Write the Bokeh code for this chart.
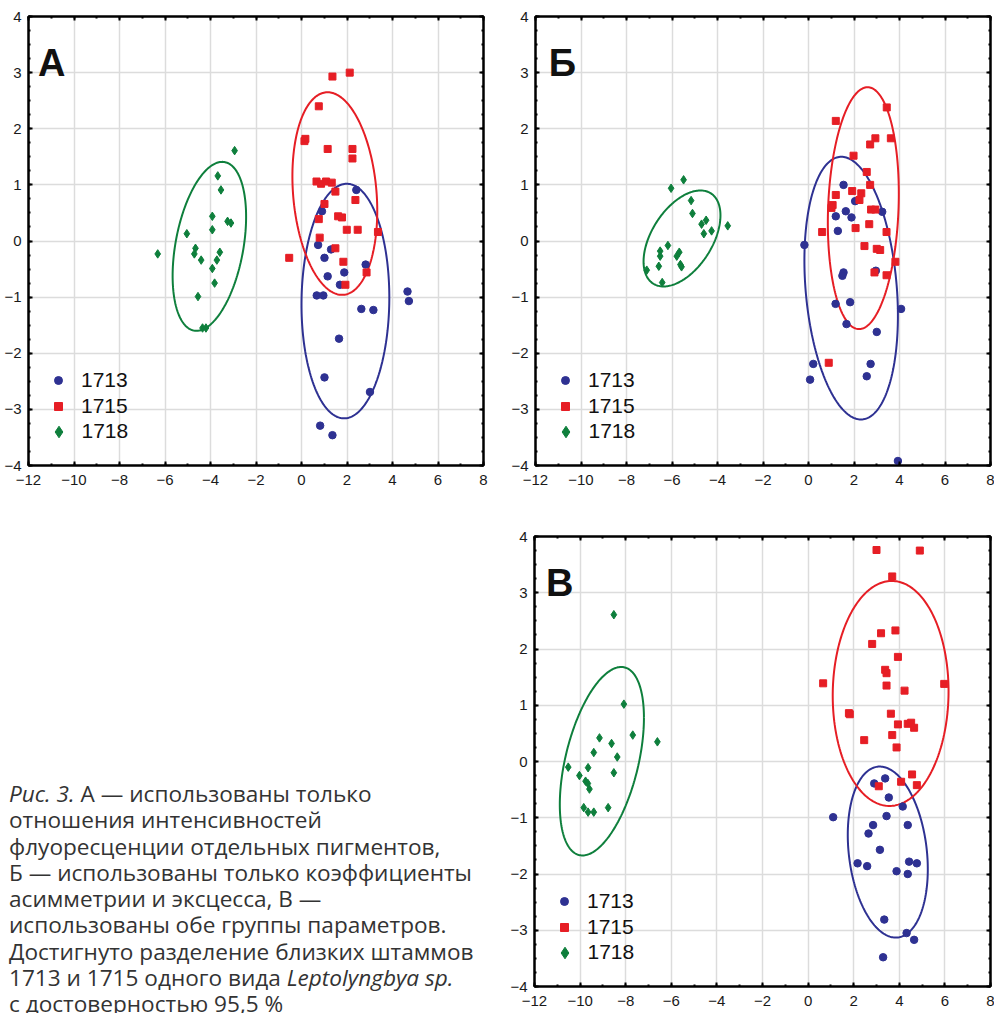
import numpy as np
from bokeh.plotting import figure
from bokeh.models import (Range1d, SingleIntervalTicker, LinearAxis, Legend,
                          LegendItem, Label, Div, CustomJSTickFormatter)
from bokeh.layouts import column, row
from bokeh.embed import file_html
from bokeh.resources import INLINE

# ---------------- data ----------------
strains = ["1713", "1715", "1718"]

# Panel А
A_1713_x = [2.41, 0.90, 0.73, 1.30, 1.01, 1.15, 1.88, 1.69, 2.82, 0.67, 0.96, 2.63, 3.16, 1.65, 1.01, 3.01, 0.82, 1.36, 4.66, 4.72]
A_1713_y = [0.91, 0.53, -0.07, -0.15, -0.30, -0.63, -0.56, -0.78, -0.42, -0.97, -0.97, -1.21, -1.23, -1.74, -2.43, -2.69, -3.29, -3.46, -0.90, -1.07]
A_1715_x = [1.36, 2.12, 0.76, 0.13, 0.17, 1.15, 2.24, 2.24, 0.66, 0.86, 1.08, 1.33, 1.49, 2.37, 1.01, 0.76, 1.61, 1.78, 1.99, 2.47, 3.36, 0.80, 1.49, -0.54, 1.84, 2.86, 1.93]
A_1715_y = [2.93, 3.00, 2.40, 1.78, 1.82, 1.64, 1.64, 1.47, 1.06, 1.02, 1.06, 1.04, 0.88, 0.73, 0.66, 0.39, 0.44, 0.42, 0.20, 0.20, 0.16, 0.06, -0.13, -0.30, -0.37, -0.56, -0.78]
A_1718_x = [-2.94, -3.68, -3.54, -3.92, -3.25, -3.10, -3.92, -5.04, -4.66, -4.71, -6.32, -4.41, -3.59, -3.72, -3.92, -3.82, -4.55, -4.35, -4.20]
A_1718_y = [1.61, 1.16, 0.91, 0.44, 0.35, 0.32, 0.20, 0.13, -0.13, -0.23, -0.23, -0.34, -0.20, -0.34, -0.49, -0.75, -0.99, -1.55, -1.55]
# ellipses: centre x, centre y, half-width x, half-height y, correlation
A_ell_1713 = [1.93, -1.07, 1.93, 2.09, 0.03]
A_ell_1715 = [1.465, 0.845, 1.865, 1.805, -0.17]
A_ell_1718 = [-4.05, -0.095, 1.615, 1.505, 0.35]

# Panel Б
B_1713_x = [-0.18, 1.54, 2.05, 1.20, 1.64, 1.89, 1.29, 3.24, 2.96, 1.54, 1.49, 1.19, 1.83, 1.67, 3.00, 4.07, 0.21, 0.07, 2.73, 2.56, 3.93]
B_1713_y = [-0.07, 1.00, 0.71, 0.44, 0.53, 0.42, 0.18, 0.52, -0.53, -0.56, -0.62, -1.12, -1.09, -1.48, -1.62, -1.21, -2.19, -2.47, -2.19, -2.41, -3.92]
B_1715_x = [1.20, 3.44, 2.94, 3.62, 2.71, 1.98, 2.56, 2.71, 1.92, 2.32, 2.24, 1.20, 1.06, 1.01, 2.75, 2.94, 2.67, 2.07, 0.60, 3.43, 2.46, 3.00, 3.15, 3.82, 2.90, 3.43, 0.89]
B_1715_y = [2.14, 2.38, 1.83, 1.83, 1.72, 1.52, 1.23, 1.00, 0.89, 0.85, 0.73, 0.82, 0.64, 0.59, 0.56, 0.56, 0.30, 0.23, 0.16, 0.16, -0.09, -0.14, -0.16, -0.37, -0.56, -0.61, -2.17]
B_1718_x = [-5.49, -6.04, -5.16, -5.10, -4.50, -4.70, -3.55, -4.26, -4.60, -6.18, -6.52, -6.52, -5.68, -5.79, -6.58, -5.63, -5.58, -7.11, -6.43]
B_1718_y = [1.09, 0.94, 0.72, 0.49, 0.37, 0.30, 0.27, 0.18, 0.13, -0.08, -0.18, -0.27, -0.20, -0.27, -0.45, -0.42, -0.46, -0.52, -0.74]
B_ell_1713 = [1.875, -0.84, 2.055, 2.34, -0.21]
B_ell_1715 = [2.41, 0.585, 1.56, 2.155, 0.12]
B_ell_1718 = [-5.56, 0.045, 1.69, 0.855, 0.48]

# Panel В
C_1713_x = [3.38, 2.90, 3.54, 4.15, 1.10, 3.44, 2.85, 4.37, 2.65, 3.15, 2.17, 2.59, 3.88, 4.37, 4.43, 4.77, 3.34, 4.32, 4.65, 3.29]
C_1713_y = [-0.30, -0.39, -0.64, -0.80, -0.99, -0.97, -1.13, -1.13, -1.28, -1.57, -1.81, -1.86, -1.95, -2.00, -1.78, -1.81, -2.81, -3.05, -3.17, -3.48]
C_1715_x = [3.00, 4.90, 3.69, 3.20, 3.83, 2.81, 3.94, 3.38, 3.44, 0.66, 5.97, 3.44, 4.23, 1.79, 1.83, 3.63, 3.94, 4.37, 4.52, 4.65, 3.69, 2.46, 3.88, 4.56, 3.10, 4.08, 4.77]
C_1715_y = [3.76, 3.75, 3.29, 2.28, 2.33, 2.09, 1.86, 1.63, 1.57, 1.39, 1.38, 1.35, 1.26, 0.86, 0.84, 0.85, 0.66, 0.67, 0.69, 0.60, 0.47, 0.38, 0.25, -0.23, -0.44, -0.36, -0.42]
C_1718_x = [-8.52, -8.08, -7.69, -6.61, -9.15, -8.62, -9.40, -8.37, -10.52, -9.65, -8.52, -10.03, -9.76, -9.66, -9.59, -9.84, -9.65, -9.40, -8.77]
C_1718_y = [2.61, 1.02, 0.47, 0.35, 0.42, 0.32, 0.16, 0.08, -0.10, -0.11, -0.20, -0.25, -0.35, -0.39, -0.49, -0.82, -0.90, -0.90, -0.82]
C_ell_1713 = [3.495, -1.61, 1.755, 1.52, -0.20]
C_ell_1715 = [3.62, 1.21, 2.54, 2.00, 0.02]
C_ell_1718 = [-9.045, 0.005, 1.845, 1.675, 0.46]

x_ticks_major = 2
y_ticks_major = 1

caption_lines = [
    "<i>Рис. 3.</i> А — использованы только",
    "отношения интенсивностей",
    "флуоресценции отдельных пигментов,",
    "Б — использованы только коэффициенты",
    "асимметрии и эксцесса, В —",
    "использованы обе группы параметров.",
    "Достигнуто разделение близких штаммов",
    "1713 и 1715 одного вида <i>Leptolyngbya sp.</i>",
    "с достоверностью 95,5 %",
]

# ---------------- style ----------------
COLORS = {"1713": "#2E3192", "1715": "#E61E25", "1718": "#0E7F3C"}
FONT = "Liberation Sans"
MARKERS = {"1713": ("circle", 7.5), "1715": ("square", 7), "1718": ("diamond", 8.5)}
# legend: (glyph box, row centre above frame bottom)
LEG = {"1713": (20, 26, 85), "1715": (20, 26, 59.5), "1718": (29, 29, 34)}


def ellipse_xy(params):
    cx, cy, sx, sy, rho = params
    t = np.linspace(0, 2 * np.pi, 241)
    x = cx + sx * np.cos(t)
    y = cy + sy * (rho * np.cos(t) + np.sqrt(1 - rho ** 2) * np.sin(t))
    return x, y


def style_axis(ax):
    ax.axis_line_color = "black"
    ax.axis_line_width = 2
    ax.major_tick_in = 4
    ax.major_tick_out = 0
    ax.minor_tick_in = 2
    ax.minor_tick_out = 0
    ax.major_tick_line_color = "black"
    ax.major_tick_line_width = 2
    ax.minor_tick_line_color = "black"
    ax.minor_tick_line_width = 2
    ax.major_label_text_font = FONT
    ax.major_label_text_font_size = "15px"
    ax.major_label_text_color = "#1a1a1a"


def make_panel(letter, pts, ells, width, height, bl, br, bt, bb, letter_x):
    p = figure(width=width, height=height, output_backend="svg", toolbar_location=None,
               x_range=Range1d(-12, 8), y_range=Range1d(-4, 4),
               min_border_left=bl, min_border_right=br, min_border_top=bt,
               min_border_bottom=bb, background_fill_color="white",
               border_fill_color="white")
    p.outline_line_color = "black"
    p.outline_line_width = 2

    bottom = p.below[0]
    left = p.left[0]
    bottom.ticker = SingleIntervalTicker(interval=x_ticks_major, num_minor_ticks=2)
    left.ticker = SingleIntervalTicker(interval=y_ticks_major, num_minor_ticks=4)
    blank = CustomJSTickFormatter(code="return '';")
    top = LinearAxis(ticker=SingleIntervalTicker(interval=x_ticks_major, num_minor_ticks=2),
                     formatter=blank)
    right = LinearAxis(ticker=SingleIntervalTicker(interval=y_ticks_major, num_minor_ticks=4),
                       formatter=blank)
    p.add_layout(top, "above")
    p.add_layout(right, "right")
    for ax in [bottom, left, top, right]:
        style_axis(ax)
    for ax in [top, right]:
        ax.major_label_standoff = 0
        ax.major_label_text_font_size = "1px"
    bottom.major_label_standoff = 9
    left.major_label_standoff = 7

    for g in (p.xgrid[0], p.ygrid[0]):
        g.grid_line_color = "#dcdcdc"
        g.grid_line_width = 1.5

    for s in strains:
        ex, ey = ellipse_xy(ells[s])
        p.line(ex, ey, line_color=COLORS[s], line_width=2)
    for s in strains:
        x, y = pts[s]
        marker, size = MARKERS[s]
        r = p.scatter(x, y, marker=marker, size=size,
                      fill_color=COLORS[s], line_color=COLORS[s], line_width=1)
        gw, gh, yc = LEG[s]
        legend = Legend(items=[LegendItem(label=s, renderers=[r])],
                        location=(30 - gw / 2, yc - gh / 2),
                        glyph_width=gw, glyph_height=gh, label_height=gh,
                        label_standoff=int(53.5 - 30 - gw / 2), spacing=0,
                        padding=0, margin=0,
                        label_text_font=FONT, label_text_font_size="21px",
                        label_text_color="#111111", border_line_alpha=0,
                        background_fill_alpha=0)
        p.add_layout(legend)

    p.add_layout(Label(x=letter_x, y=3.17, text=letter, text_font=FONT,
                       text_font_style="bold", text_font_size="38px",
                       text_color="#111111", text_baseline="alphabetic"))
    return p


pA = make_panel("А",
                {"1713": (A_1713_x, A_1713_y), "1715": (A_1715_x, A_1715_y), "1718": (A_1718_x, A_1718_y)},
                {"1713": A_ell_1713, "1715": A_ell_1715, "1718": A_ell_1718},
                497, 520, 28, 14, 16, 55, -11.58)
pB = make_panel("Б",
                {"1713": (B_1713_x, B_1713_y), "1715": (B_1715_x, B_1715_y), "1718": (B_1718_x, B_1718_y)},
                {"1713": B_ell_1713, "1715": B_ell_1715, "1718": B_ell_1718},
                497, 520, 38, 4, 16, 55, -11.42)
pC = make_panel("В",
                {"1713": (C_1713_x, C_1713_y), "1715": (C_1715_x, C_1715_y), "1718": (C_1718_x, C_1718_y)},
                {"1713": C_ell_1713, "1715": C_ell_1715, "1718": C_ell_1718},
                497, 493, 37, 4, 16, 27, -11.50)

html = ('<div style="box-sizing:border-box;font-family:\'Open Sans\';font-size:22.6px;'
        'line-height:26.3px;color:#333333;white-space:nowrap;padding:261px 0 0 9px;'
        'width:497px;height:493px;overflow:hidden;">'
        + "<br>".join(caption_lines) + "</div>")
cap = Div(text=html, width=497, height=493, margin=(0, 0, 0, 0))

layout = column(row(pA, pB, spacing=0), row(cap, pC, spacing=0), spacing=0)

open("out.html", "w").write(file_html(layout, INLINE))
